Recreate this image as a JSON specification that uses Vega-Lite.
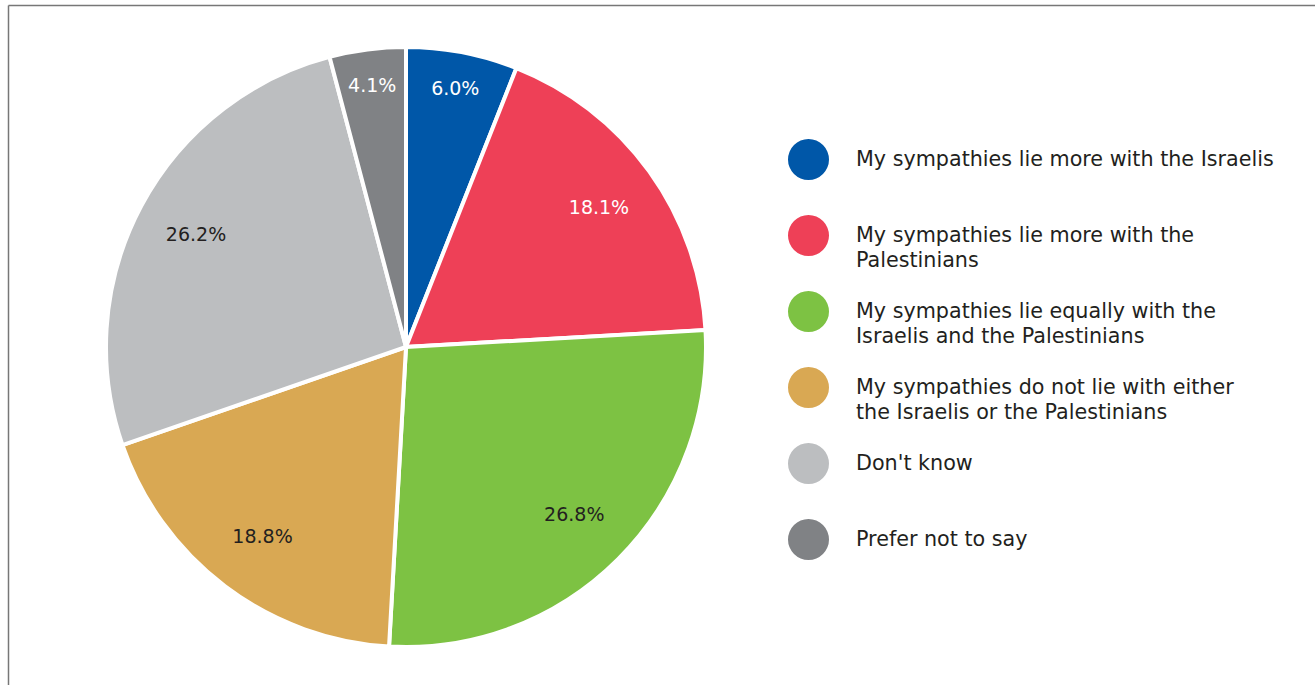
{
  "$schema": "https://vega.github.io/schema/vega-lite/v6.json",
  "autosize": "none",
  "width": 796,
  "height": 676,
  "padding": {"left": 8, "top": 9, "right": 511, "bottom": 0},
  "background": "white",
  "config": {
    "view": {"stroke": null},
    "font": "DejaVu Sans",
    "style": {"guide-label": {"lineHeight": 25}}
  },
  "data": {
    "values": [
      {"category": "My sympathies lie more with the Israelis", "share": 0.060, "order": 1},
      {"category": "My sympathies lie more with the Palestinians", "share": 0.181, "order": 2},
      {"category": "My sympathies lie equally with the Israelis and the Palestinians", "share": 0.268, "order": 3},
      {"category": "My sympathies do not lie with either the Israelis or the Palestinians", "share": 0.188, "order": 4},
      {"category": "Don't know", "share": 0.262, "order": 5},
      {"category": "Prefer not to say", "share": 0.041, "order": 6}
    ]
  },
  "layer": [
    {
      "mark": {"type": "arc", "radius": 300, "stroke": "white", "strokeWidth": 4},
      "encoding": {
        "theta": {"field": "share", "type": "quantitative", "stack": true},
        "order": {"field": "order", "type": "quantitative"},
        "color": {
          "field": "category",
          "type": "nominal",
          "scale": {
            "domain": [
              "My sympathies lie more with the Israelis",
              "My sympathies lie more with the Palestinians",
              "My sympathies lie equally with the Israelis and the Palestinians",
              "My sympathies do not lie with either the Israelis or the Palestinians",
              "Don't know",
              "Prefer not to say"
            ],
            "range": ["#0057A8", "#EE4057", "#7DC243", "#D9A853", "#BCBEC0", "#808285"]
          },
          "legend": {
            "orient": "none",
            "legendX": 780,
            "legendY": 130,
            "title": null,
            "padding": 0,
            "symbolType": "circle",
            "symbolSize": 1681,
            "symbolStrokeWidth": 0,
            "symbolOpacity": 1,
            "labelFont": "DejaVu Sans",
            "labelFontSize": 20.7,
            "labelColor": "#231F20",
            "labelOffset": 27,
            "labelLimit": 600,
            "rowPadding": 20,
            "gridAlign": "all",
            "labelExpr": "datum.label == 'My sympathies lie more with the Palestinians' ? ['My sympathies lie more with the', 'Palestinians'] : datum.label == 'My sympathies lie equally with the Israelis and the Palestinians' ? ['My sympathies lie equally with the', 'Israelis and the Palestinians'] : datum.label == 'My sympathies do not lie with either the Israelis or the Palestinians' ? ['My sympathies do not lie with either', 'the Israelis or the Palestinians'] : datum.label",
            "encode": {
              "labels": {
                "dy": {
                  "condition": {"test": "length(datum.value) > 42", "value": -11},
                  "value": 0
                }
              }
            }
          }
        }
      }
    },
    {
      "mark": {"type": "text", "radius": 238, "fontSize": 19, "font": "DejaVu Sans", "align": "center", "baseline": "middle"},
      "encoding": {
        "theta": {"field": "share", "type": "quantitative", "stack": true},
        "order": {"field": "order", "type": "quantitative"},
        "text": {"condition": {"test": "datum.share >= 0.1", "field": "share", "format": ".1%"}, "value": ""},
        "color": {"condition": {"test": "datum.order == 2", "value": "white"}, "value": "#231F20"}
      }
    },
    {
      "mark": {"type": "text", "radius": 263, "fontSize": 19, "font": "DejaVu Sans", "align": "center", "baseline": "middle", "color": "white"},
      "encoding": {
        "theta": {"field": "share", "type": "quantitative", "stack": true},
        "order": {"field": "order", "type": "quantitative"},
        "text": {"condition": {"test": "datum.share < 0.1", "field": "share", "format": ".1%"}, "value": ""}
      }
    },
    {
      "mark": {"type": "point", "opacity": 0},
      "encoding": {
        "x": {
          "datum": 0,
          "type": "quantitative",
          "scale": {"domain": [0, 1], "range": [0, 1320]},
          "axis": {"orient": "top", "domain": true, "domainColor": "#777777", "domainWidth": 1.5, "ticks": false, "labels": false, "grid": false, "title": null, "offset": 4}
        },
        "y": {
          "datum": 0,
          "type": "quantitative",
          "scale": {"domain": [0, 1], "range": [-4, 690]},
          "axis": {"orient": "left", "domain": true, "domainColor": "#777777", "domainWidth": 1.5, "ticks": false, "labels": false, "grid": false, "title": null}
        }
      }
    }
  ]
}
